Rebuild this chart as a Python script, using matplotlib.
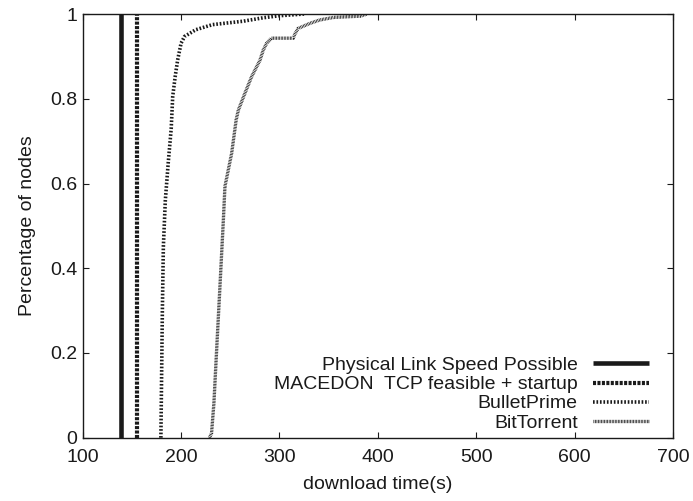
import matplotlib
matplotlib.use("Agg")
import matplotlib.pyplot as plt

plt.rcParams['font.family'] = ['Liberation Sans', 'DejaVu Sans']
plt.rcParams['lines.scale_dashes'] = False

# ---- data ----
labels = ["Physical Link Speed Possible",
          "MACEDON  TCP feasible + startup",
          "BulletPrime",
          "BitTorrent"]

physical_time = 139
macedon_time = 155

bullet_t = [179.5, 180, 181, 182, 184, 187, 190, 191.5, 194, 196.5, 200, 203.5,
            215, 232, 263, 283, 300, 325]
bullet_f = [0.0, 0.10, 0.30, 0.45, 0.56, 0.65, 0.73, 0.805, 0.852, 0.891, 0.931, 0.947,
            0.963, 0.975, 0.983, 0.991, 0.996, 1.0]

bt_t = [229, 231, 233.4, 236, 239.5, 243, 244.6, 251.4, 256, 258.2, 264.9, 271.7,
        280.2, 283.6, 287, 292, 314, 316, 319, 331, 341, 355, 382, 389]
bt_f = [0.0, 0.011, 0.082, 0.20, 0.356, 0.514, 0.593, 0.671, 0.75, 0.773, 0.813, 0.852,
        0.891, 0.915, 0.931, 0.943, 0.943, 0.954, 0.966, 0.978, 0.986, 0.992, 0.995, 1.0]

xticks = [100, 200, 300, 400, 500, 600, 700]
yticks = [0, 0.2, 0.4, 0.6, 0.8, 1]
ytick_labels = ["0", "0.2", "0.4", "0.6", "0.8", "1"]

# ---- figure ----
fig = plt.figure(figsize=(6.93, 5.01), dpi=100)
ax = fig.add_axes([0.1193, 0.1263, 0.8518, 0.8457])

ink = '#1a1a1a'
ax.axvline(physical_time, color=ink, lw=3.3, solid_capstyle='butt', label=labels[0])
ax.axvline(macedon_time, color=ink, lw=3.0, linestyle=(0, (2.2, 1.0)),
           dash_capstyle='butt', label=labels[1])
ax.plot(bullet_t, bullet_f, color=ink, lw=2.6, linestyle=(0, (1.2, 1.3)),
        dash_capstyle='butt', label=labels[2])
ax.plot(bt_t, bt_f, color=ink, lw=2.4, linestyle=(0, (0.55, 0.55)),
        dash_capstyle='butt', label=labels[3])

ax.set_xlim(100, 700)
ax.set_ylim(0, 1)
ax.set_xticks(xticks)
ax.set_yticks(yticks)
ax.set_yticklabels(ytick_labels)
ax.tick_params(direction='in', length=4.5, width=0.8, top=True, right=True,
               labelsize=14, colors=ink)
ax.tick_params(axis='x', pad=8)
ax.tick_params(axis='y', pad=4)
for s in ax.spines.values():
    s.set_linewidth(1.0)
    s.set_color(ink)

ax.set_xlabel("download time(s)", fontsize=14, color=ink, labelpad=7)
ax.set_ylabel("Percentage of nodes", fontsize=14, color=ink, labelpad=10)

leg = ax.legend(loc='lower right', bbox_to_anchor=(0.972, -0.004), frameon=False,
                markerfirst=False, fontsize=14, handlelength=2.85,
                handletextpad=0.8, labelspacing=0.08, borderaxespad=0.0)
for t in leg.get_texts():
    t.set_color(ink)

fig.savefig("out.png", dpi=100)
